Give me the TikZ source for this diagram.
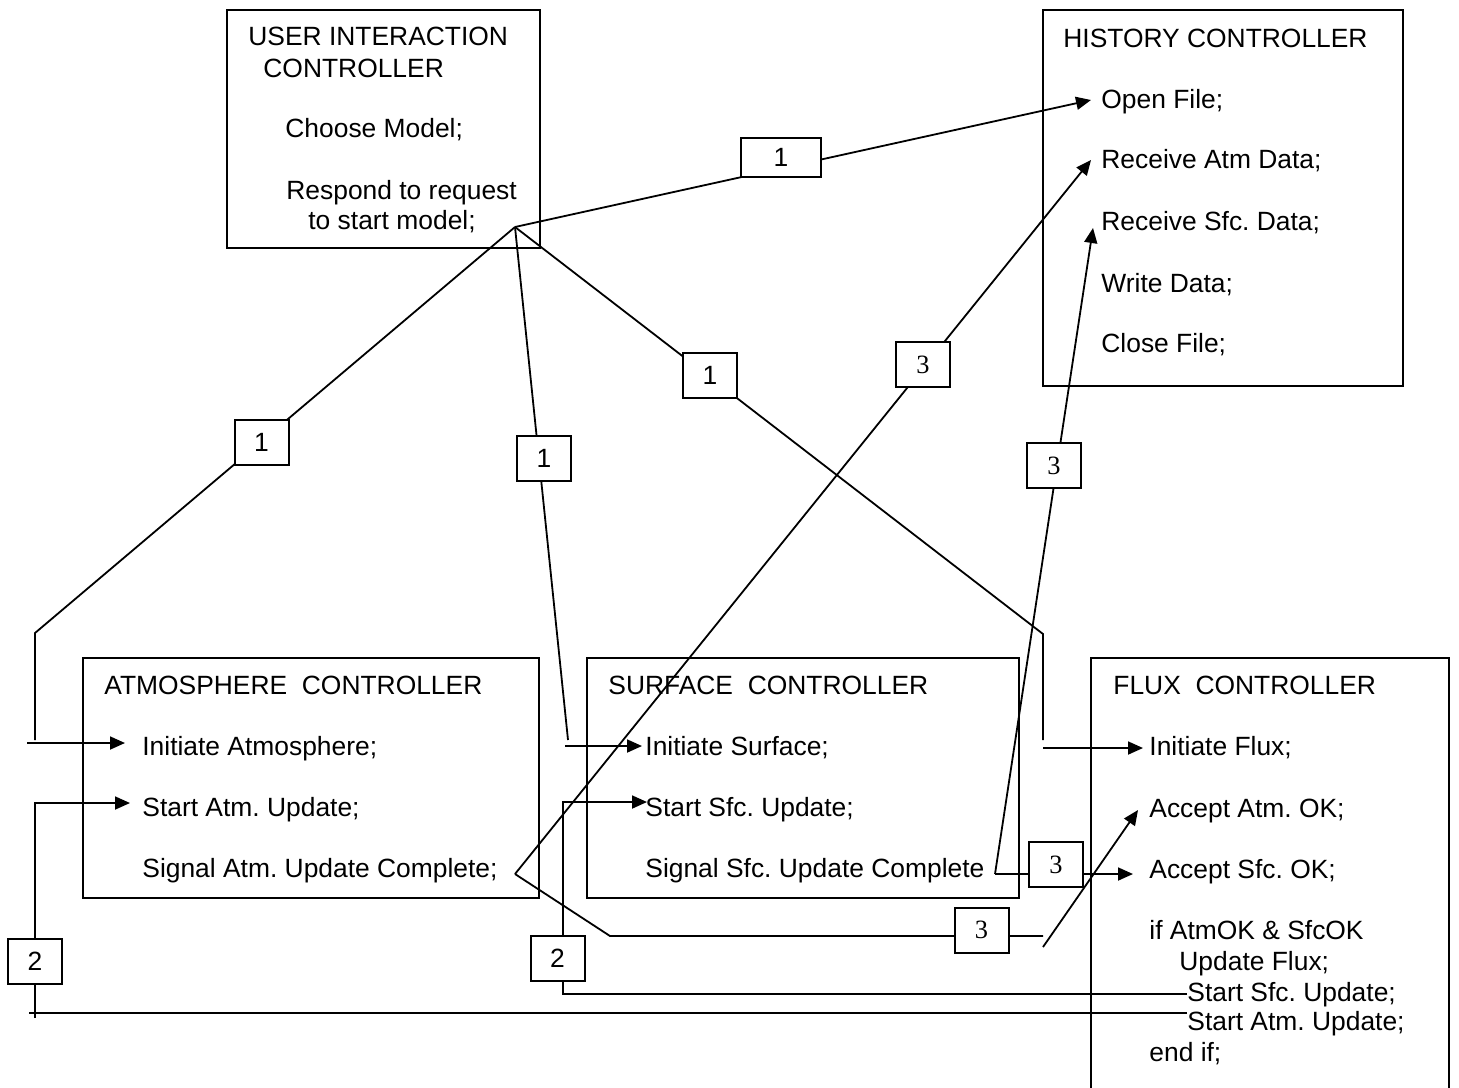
\documentclass[tikz,border=0pt]{standalone}
\usepackage{fontspec}
\setmainfont{Liberation Sans}
\newfontfamily\numserif{Liberation Serif}
\usetikzlibrary{arrows.meta,fit}
\frenchspacing

\begin{document}
\begin{tikzpicture}[x=0.5pt,y=-0.5pt,
  font=\fontsize{13.2}{15}\selectfont,
  wire/.style={line width=0.9pt},
  arrowwire/.style={wire,-{Triangle[length=7.5pt,width=6.5pt]}},
  frame/.style={draw,line width=1pt,inner sep=0pt},
  txt/.style={anchor=base west,inner sep=0pt},
  tag/.style={draw,fill=white,line width=1pt,minimum width=27pt,minimum height=22.5pt,inner sep=0pt},
  widetag/.style={tag,minimum width=40pt,minimum height=19.5pt},
]
\useasboundingbox (0,0) rectangle (1459,1087);

% ---- controller frames ----
\node[frame,fit={(227,10)(540,248)}] (ui) {};
\node[frame,fit={(1043,10)(1403,386)}] (hist) {};
\node[frame,fit={(83,658)(539,898)}] (atm) {};
\node[frame,fit={(587,658)(1019,898)}] (sfc) {};
\coordinate (fluxBL) at (1091,1095);
\coordinate (fluxTL) at (1091,658);
\coordinate (fluxTR) at (1449,658);
\coordinate (fluxBR) at (1449,1095);
\draw[line width=1pt] (fluxBL) -- (fluxTL) -- (fluxTR) -- (fluxBR);

% ---- user interaction controller ----
\node[txt] (uiA) at (248,45) {USER INTERACTION};
\node[txt] (uiB) at (263,77) {CONTROLLER};
\node[txt] (uiC) at (285,137) {Choose Model;};
\node[txt] (uiD) at (286,199) {Respond to request};
\node[txt] (uiE) at (308,229) {to start model;};

% ---- history controller ----
\node[txt] (hA) at (1063,47) {HISTORY CONTROLLER};
\node[txt] (hB) at (1101,108) {Open File;};
\node[txt] (hC) at (1101,168) {Receive Atm Data;};
\node[txt] (hD) at (1101,230) {Receive Sfc. Data;};
\node[txt] (hE) at (1101,292) {Write Data;};
\node[txt] (hF) at (1101,352) {Close File;};

% ---- atmosphere controller ----
\node[txt] (aA) at (104,694) {ATMOSPHERE\ \ CONTROLLER};
\node[txt] (aB) at (142,755) {Initiate Atmosphere;};
\node[txt] (aC) at (142,816) {Start Atm. Update;};
\node[txt] (aD) at (142,877) {Signal Atm. Update Complete;};

% ---- surface controller ----
\node[txt] (sA) at (608,694) {SURFACE\ \ CONTROLLER};
\node[txt] (sB) at (645,755) {Initiate Surface;};
\node[txt] (sC) at (645,816) {Start Sfc. Update;};
\node[txt] (sD) at (645,877) {Signal Sfc. Update Complete};

% ---- flux controller ----
\node[txt] (fA) at (1113,694) {FLUX\ \ CONTROLLER};
\node[txt] (fB) at (1149,755) {Initiate Flux;};
\node[txt] (fC) at (1149,817) {Accept Atm. OK;};
\node[txt] (fD) at (1149,878) {Accept Sfc. OK;};
\node[txt] (fE) at (1149,939) {if AtmOK \& SfcOK};
\node[txt] (fF) at (1179,970) {Update Flux;};
\node[txt] (fG) at (1187,1001) {Start Sfc. Update;};
\node[txt] (fH) at (1187,1030) {Start Atm. Update;};
\node[txt] (fI) at (1149,1061) {end if;};

% ---- connector points ----
\coordinate (hub) at (515,227);
\coordinate (openTip) at (1091,100);
\coordinate (recAtmTip) at (1091,160);
\coordinate (recSfcTip) at (1093,228);
\coordinate (atmBend) at (35,633);
\coordinate (atmDrop) at (35,740);
\coordinate (atmInitFrom) at (27,743);
\coordinate (atmInitTip) at (125,743);
\coordinate (sfcDrop) at (568,740);
\coordinate (sfcInitFrom) at (565,746);
\coordinate (sfcInitTip) at (642,746);
\coordinate (fluxBend) at (1043,634);
\coordinate (fluxDrop) at (1043,740);
\coordinate (fluxInitFrom) at (1043,748);
\coordinate (fluxInitTip) at (1143,748);
\coordinate (atmDone) at (515,874);
\coordinate (atmDoneLow) at (610,936);
\coordinate (atmDoneEnd) at (1043,936);
\coordinate (atmOkFrom) at (1043,947);
\coordinate (atmOkTip) at (1138,810);
\coordinate (sfcDone) at (995,874);
\coordinate (sfcOkTip) at (1133,874);
\coordinate (sfcStartSrc) at (1187,994);
\coordinate (sfcStartCorner) at (563,994);
\coordinate (sfcStartUp) at (563,802);
\coordinate (sfcStartTip) at (647,802);
\coordinate (atmStartSrc) at (1187,1013);
\coordinate (atmStartEnd) at (29,1013);
\coordinate (atmStartLow) at (35,1018);
\coordinate (atmStartUp) at (35,803);
\coordinate (atmStartTip) at (130,803);

% ---- message 1: start-up from the user interaction controller ----
\draw[arrowwire] (hub) -- (openTip);
\draw[wire] (hub) -- (atmBend) -- (atmDrop);
\draw[arrowwire] (atmInitFrom) -- (atmInitTip);
\draw[wire] (hub) -- (sfcDrop);
\draw[arrowwire] (sfcInitFrom) -- (sfcInitTip);
\draw[wire] (hub) -- (fluxBend) -- (fluxDrop);
\draw[arrowwire] (fluxInitFrom) -- (fluxInitTip);

% ---- message 3: update complete signals ----
\draw[arrowwire] (atmDone) -- (recAtmTip);
\draw[wire] (atmDone) -- (atmDoneLow) -- (atmDoneEnd);
\draw[arrowwire] (atmOkFrom) -- (atmOkTip);
\draw[arrowwire] (sfcDone) -- (recSfcTip);
\draw[arrowwire] (sfcDone) -- (sfcOkTip);

% ---- message 2: next update requests from the flux controller ----
\draw[arrowwire] (sfcStartSrc) -- (sfcStartCorner) -- (sfcStartUp) -- (sfcStartTip);
\draw[wire] (atmStartSrc) -- (atmStartEnd);
\draw[arrowwire] (atmStartLow) -- (atmStartUp) -- (atmStartTip);

% ---- message tags ----
\node[widetag] (t1a) at (781,157.5) {1};
\node[tag] (t1b) at (261.5,442) {1};
\node[tag] (t1c) at (544,458.5) {1};
\node[tag] (t1d) at (710,375.5) {1};
\node[tag] (t3a) at (923,364.5) {\numserif 3};
\node[tag] (t3b) at (981.5,930) {\numserif 3};
\node[tag] (t3c) at (1054,465.5) {\numserif 3};
\node[tag] (t3d) at (1056,864.5) {\numserif 3};
\node[tag] (t2a) at (35,961) {2};
\node[tag] (t2b) at (557.5,958.5) {2};
\end{tikzpicture}
\end{document}
